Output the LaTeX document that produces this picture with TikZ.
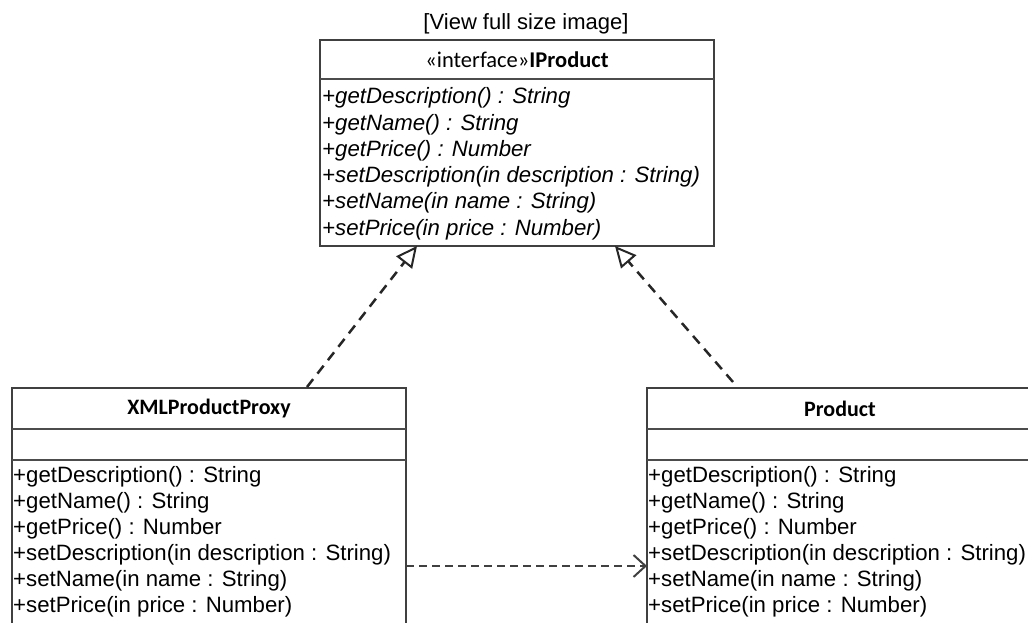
\documentclass[tikz,border=0pt]{standalone}
\usepackage{fontspec}
\setmainfont{Liberation Sans}
\newfontfamily\headfont{Carlito}
\usetikzlibrary{arrows.meta}

\tikzset{
  classbox/.style={draw=black!75, line width=1.7pt, inner sep=0pt, outer sep=0pt,
                   anchor=north west, fill=white},
  sepline/.style={draw=black!70, line width=1.9pt},
  title/.style={font=\headfont\fontsize{22.5}{24}\selectfont, inner sep=0pt},
  member/.style={font=\fontsize{22.2}{24}\selectfont, anchor=west, inner sep=0pt},
  abstract/.style={member, font=\fontsize{22.2}{24}\selectfont\itshape},
  realize/.style={draw=black!85, line width=2.5pt, dash pattern=on 10pt off 7pt,
                  -{Triangle[length=21pt, width=20pt, fill=white, line width=2pt]}},
  depend/.style={draw=black!75, line width=2pt, dash pattern=on 8pt off 5pt,
                 -{Straight Barb[length=12pt, width=22pt]}},
}

\begin{document}
\begin{tikzpicture}[x=1pt, y=1pt]
\path[use as bounding box] (0,0) rectangle (1028,-623);
\clip (0,0) rectangle (1028,-623);

% caption link
\node[inner sep=0pt, font=\fontsize{22}{24}\selectfont] (caption) at (526,-24) {[View full size image]};

% interface
\node[classbox, minimum width=394pt, minimum height=206pt] (iface) at (320,-40) {};
\draw[sepline] ([yshift=-39pt]iface.north west) -- ([yshift=-39pt]iface.north east);
\node[title] (ifacename) at ([yshift=-20pt]iface.north)
  {«interface»\textbf{IProduct}};
\foreach \t [count=\i from 0] in {%
  +getDescription() : String,
  +getName() : String,
  +getPrice() : Number,
  +setDescription(in description : String),
  +setName(in name : String),
  +setPrice(in price : Number)}
  \node[abstract] (iop\i) at ([xshift=2pt, yshift={-58pt-26.3pt*\i}]iface.north west) {\t};

% proxy class
\node[classbox, minimum width=394pt, minimum height=260pt] (xml) at (12,-388) {};
\draw[sepline] ([yshift=-41pt]xml.north west) -- ([yshift=-41pt]xml.north east);
\draw[sepline] ([yshift=-72pt]xml.north west) -- ([yshift=-72pt]xml.north east);
\node[title, font=\headfont\bfseries\fontsize{22}{24}\selectfont] (xmlname)
  at ([yshift=-21pt]xml.north) {XMLProductProxy};
\foreach \t [count=\i from 0] in {%
  +getDescription() : String,
  +getName() : String,
  +getPrice() : Number,
  +setDescription(in description : String),
  +setName(in name : String),
  +setPrice(in price : Number)}
  \node[member] (xop\i) at ([xshift=1pt, yshift={-89pt-26pt*\i}]xml.north west) {\t};

% real subject
\node[classbox, minimum width=386pt, minimum height=260pt] (prod) at (647,-388) {};
\draw[sepline] ([yshift=-41pt]prod.north west) -- ([yshift=-41pt]prod.north east);
\draw[sepline] ([yshift=-72pt]prod.north west) -- ([yshift=-72pt]prod.north east);
\node[title, font=\headfont\bfseries\fontsize{22}{24}\selectfont] (prodname)
  at ([yshift=-21pt]prod.north) {Product};
\foreach \t [count=\i from 0] in {%
  +getDescription() : String,
  +getName() : String,
  +getPrice() : Number,
  +setDescription(in description : String),
  +setName(in name : String),
  +setPrice(in price : Number)}
  \node[member] (pop\i) at ([xshift=1pt, yshift={-89pt-26pt*\i}]prod.north west) {\t};

% realization of the interface
\draw[realize] ([xshift=295pt, yshift=1pt]xml.north west) -- ([xshift=97pt]iface.south west);
\draw[realize] ([xshift=86pt, yshift=6pt]prod.north west) -- ([xshift=295pt]iface.south west);

% proxy delegates to the real subject
\draw[depend] ([yshift=-178pt]xml.north east) -- ([yshift=-178pt]prod.north west);
\end{tikzpicture}
\end{document}
